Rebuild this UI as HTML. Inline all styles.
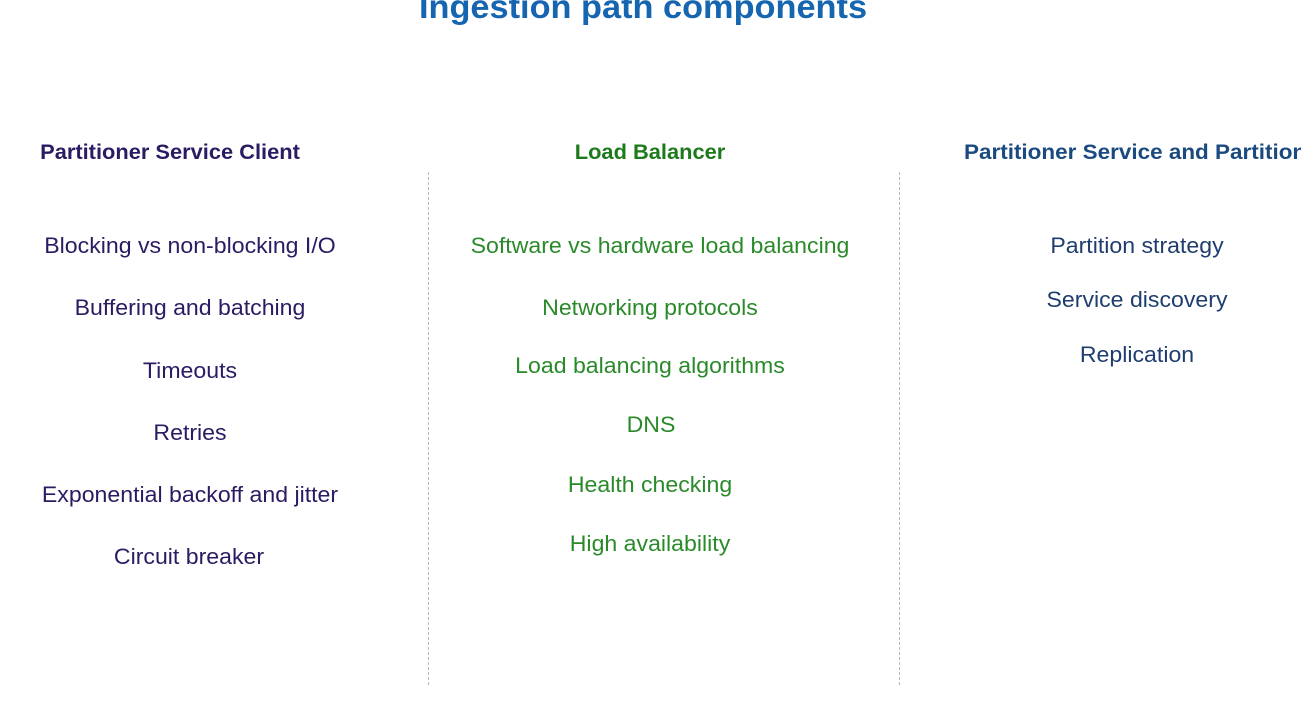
<!DOCTYPE html>
<html><head><meta charset="utf-8"><style>
html,body{margin:0;padding:0;}
body{width:1301px;height:715px;overflow:hidden;background:#fff;position:relative;font-family:"Liberation Sans",sans-serif;}
.t{position:absolute;white-space:nowrap;transform:translate(-50%,-50%) scaleX(1.05);font-size:22px;}
.h{font-weight:bold;font-size:21px;transform:translate(-50%,-50%) scaleX(1.04);}
.p{color:#2b1b62;}
.g{color:#2a8a2a;}
.gh{color:#1c7a1c;}
.b{color:#1f3d6e;}
.hb{color:#1a4a80;}
.v{position:absolute;top:172px;height:513px;width:0;border-left:1px dashed #b8b8b8;}
</style></head><body>
<div class="t h" style="left:643px;top:7px;font-size:33px;color:#1565b0;transform:translate(-50%,-50%) scaleX(1.04);">Ingestion path components</div>

<div class="t h p" style="left:170px;top:153px;">Partitioner Service Client</div>
<div class="t h gh" style="left:650px;top:153px;">Load Balancer</div>
<div class="t h hb" style="left:964px;top:153px;transform:translate(0,-50%) scaleX(1.07);transform-origin:0 50%;">Partitioner Service and Partition</div>

<div class="v" style="left:428px"></div>
<div class="v" style="left:899px"></div>

<div class="t p" style="left:190px;top:246px;">Blocking vs non-blocking I/O</div>
<div class="t p" style="left:190px;top:308px;">Buffering and batching</div>
<div class="t p" style="left:190px;top:371px;">Timeouts</div>
<div class="t p" style="left:190px;top:433px;">Retries</div>
<div class="t p" style="left:190px;top:495px;">Exponential backoff and jitter</div>
<div class="t p" style="left:189px;top:557px;">Circuit breaker</div>

<div class="t g" style="left:660px;top:246px;">Software vs hardware load balancing</div>
<div class="t g" style="left:650px;top:308px;">Networking protocols</div>
<div class="t g" style="left:650px;top:366px;">Load balancing algorithms</div>
<div class="t g" style="left:651px;top:425px;">DNS</div>
<div class="t g" style="left:650px;top:485px;">Health checking</div>
<div class="t g" style="left:650px;top:544px;">High availability</div>

<div class="t b" style="left:1137px;top:246px;">Partition strategy</div>
<div class="t b" style="left:1137px;top:300px;">Service discovery</div>
<div class="t b" style="left:1137px;top:355px;">Replication</div>
</body></html>
